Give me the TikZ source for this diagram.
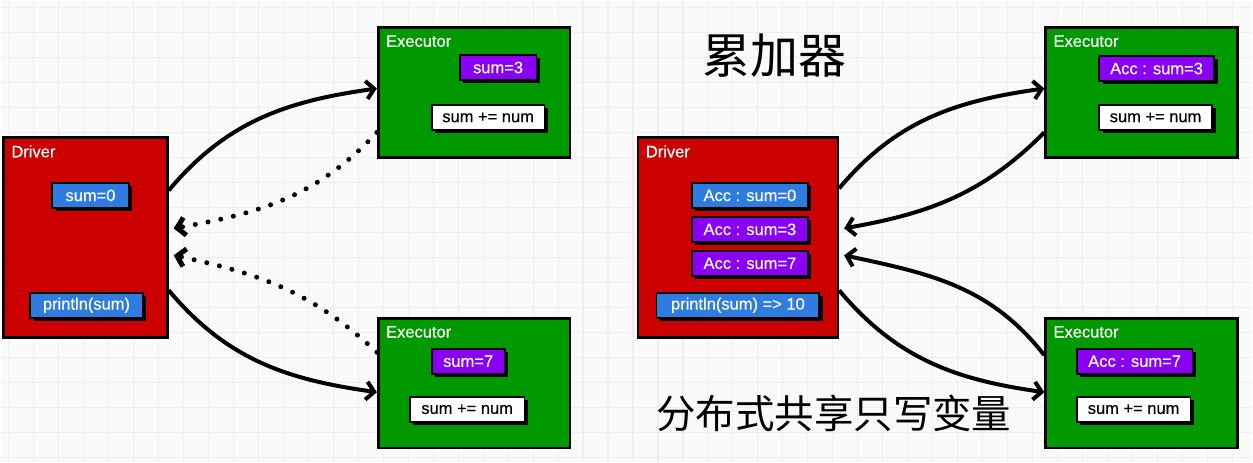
\documentclass[tikz,border=0pt]{standalone}
\usepackage{fontspec}
\setmainfont{Liberation Sans}
\newfontfamily\boxfont[FakeBold=0.4]{Liberation Sans}
\newfontfamily\cjk{Noto Sans CJK SC}
\usetikzlibrary{arrows.meta, positioning, shadows}
\definecolor{DriverRed}{RGB}{204, 0, 0}
\definecolor{ExecGreen}{RGB}{0, 153, 0}
\definecolor{VarBlue}{RGB}{46, 124, 224}
\definecolor{AccPurple}{RGB}{138, 0, 245}
\definecolor{GridGray}{RGB}{238, 238, 238}
\definecolor{PaperGray}{RGB}{250, 250, 250}

\begin{document}
\begin{tikzpicture}[x=1pt, y=1pt]
        \tikzset{
            driverbox/.style={draw=black, line width=2.6pt, fill=DriverRed, minimum width=#1, minimum height=200pt, inner sep=0pt},
            execbox/.style={draw=black, line width=2.6pt, fill=ExecGreen, minimum width=192pt, minimum height=130pt, inner sep=0pt},
            boxtitle/.style={text=white, inner sep=0pt, font=\boxfont\fontsize{16.5}{19}\selectfont},
            varbox/.style={draw=black, line width=1.8pt, minimum height=25pt, minimum width=#1, inner sep=0pt, text=white,
                font=\boxfont\fontsize{16.5}{19}\selectfont, drop shadow={shadow xshift=3.5pt, shadow yshift=-3.5pt, fill=black, opacity=1}},
            bluevar/.style={varbox=#1, fill=VarBlue},
            purplevar/.style={varbox=#1, fill=AccPurple},
            codebox/.style={varbox=#1, fill=white, text=black},
            flow/.style={line width=4pt, -{Straight Barb[length=8pt, width=18pt]}},
            dotflow/.style={flow, line width=5pt, dash pattern=on 0pt off 13pt, line cap=round},
            gridline/.style={GridGray, line width=1.1pt}
        }

        % Fond cu grilă
        \fill[PaperGray] (0,0) rectangle (1253,-462);
        \foreach \gx in {8,33,...,1253} \draw[gridline] (\gx,0) -- (\gx,-462);
        \foreach \gy in {7,32,...,462} \draw[gridline] (0,-\gy) -- (1253,-\gy);
        \useasboundingbox (0,0) rectangle (1253,-462);

        % Partea stângă
        \node (drvA) [driverbox=164pt] at (85,-237) {};
        \node (drvAtitle) [boxtitle, below right=9pt and 9pt of drvA.north west] {Driver};
        \node (sumA0) [bluevar=77pt] at (90,-195) {sum=0};
        \node (printA) [bluevar=113pt] at (86,-305) {println(sum)};

        \node (exeA1) [execbox] at (474,-92) {};
        \node (exeA1title) [boxtitle, below right=9pt and 9pt of exeA1.north west] {Executor};
        \node (sumA3) [purplevar=77pt] at (498,-67) {sum=3};
        \node (addA1) [codebox=113pt] at (488,-117) {sum += num};

        \node (exeA2) [execbox] at (474,-383) {};
        \node (exeA2title) [boxtitle, below right=9pt and 9pt of exeA2.north west] {Executor};
        \node (sumA7) [purplevar=73pt] at (468,-361) {sum=7};
        \node (addA2) [codebox=115pt] at (467,-409) {sum += num};

        % Partea dreaptă
        \node (drvB) [driverbox=200pt] at (738,-237) {};
        \node (drvBtitle) [boxtitle, below right=9pt and 9pt of drvB.north west] {Driver};
        \node (accB0) [bluevar=116pt] at (750,-195) {Acc : sum=0};
        \node (accB3) [purplevar=116pt] at (750,-229) {Acc : sum=3};
        \node (accB7) [purplevar=116pt] at (750,-263) {Acc : sum=7};
        \node (printB) [bluevar=163pt] at (738,-305) {println(sum) => 10};

        \node (exeB1) [execbox] at (1142,-92) {};
        \node (exeB1title) [boxtitle, below right=9pt and 9pt of exeB1.north west] {Executor};
        \node (accB3x) [purplevar=115pt] at (1157,-68) {Acc : sum=3};
        \node (addB1) [codebox=113pt] at (1156,-117) {sum += num};

        \node (exeB2) [execbox] at (1142,-383) {};
        \node (exeB2title) [boxtitle, below right=9pt and 9pt of exeB2.north west] {Executor};
        \node (accB7x) [purplevar=116pt] at (1135,-361) {Acc : sum=7};
        \node (addB2) [codebox=114pt] at (1134,-409) {sum += num};

        % Titluri
        \node (accTitle) [font=\cjk\fontsize{48}{52}\selectfont] at (775,-55) {累加器};
        \node (distTitle) [font=\cjk\fontsize{39.5}{43}\selectfont] at (834,-413) {分布式共享只写变量};

        % Săgeți stânga
        \draw [flow] ([yshift=47pt]drvA.east) to[out=50, in=188] ([yshift=4pt]exeA1.west);
        \draw [dotflow] ([yshift=-40pt]exeA1.west) to[out=227, in=10] ([xshift=5pt, yshift=9pt]drvA.east);
        \draw [dotflow] ([yshift=31pt]exeA2.west) to[out=137, in=-12] ([xshift=5pt, yshift=-18pt]drvA.east);
        \draw [flow] ([yshift=-53pt]drvA.east) to[out=-50, in=172] ([yshift=-9pt]exeA2.west);

        % Săgeți dreapta
        \draw [flow] ([yshift=49pt]drvB.east) to[out=50, in=188] ([yshift=4pt]exeB1.west);
        \draw [flow] ([yshift=-40pt]exeB1.west) to[out=225, in=10] ([xshift=5pt, yshift=9pt]drvB.east);
        \draw [flow] ([yshift=28pt]exeB2.west) to[out=128, in=-12] ([xshift=5pt, yshift=-18pt]drvB.east);
        \draw [flow] ([yshift=-53pt]drvB.east) to[out=-50, in=172] ([yshift=-9pt]exeB2.west);
\end{tikzpicture}
\end{document}
